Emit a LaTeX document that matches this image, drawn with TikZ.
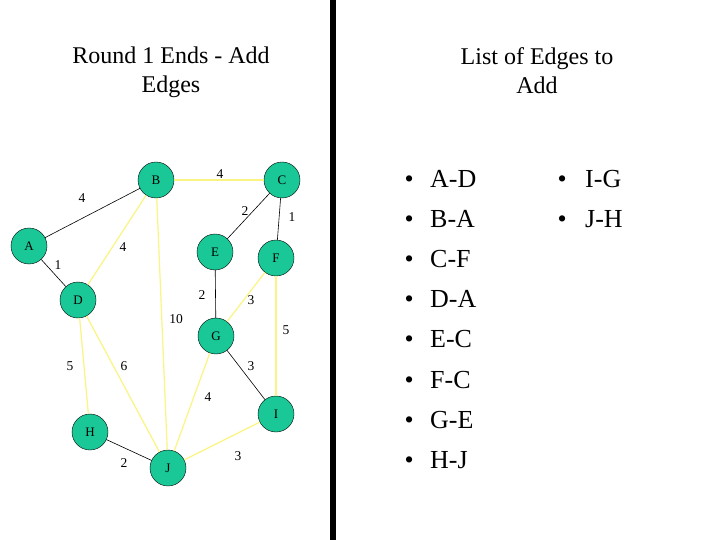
\documentclass[tikz,border=0pt]{standalone}
\usepackage{fontspec}
\setmainfont{Liberation Serif}
\usetikzlibrary{positioning}
\definecolor{seagreen}{RGB}{25,200,150}
\definecolor{paleyellow}{RGB}{250,245,130}

\begin{document}
\begin{tikzpicture}[x=1bp, y=-1bp,
    vertex/.style={circle, draw=black, fill=seagreen, minimum size=36bp, inner sep=0pt,
        font=\fontsize{13bp}{15bp}\selectfont},
    weight/.style={inner sep=0pt, font=\fontsize{13.5bp}{16bp}\selectfont},
    tree/.style={black, line width=0.6bp},
    cand/.style={paleyellow, line width=1.2bp},
    heading/.style={align=center, font=\fontsize{24bp}{29bp}\selectfont},
    entry/.style={anchor=base west, inner sep=0pt, font=\fontsize{26bp}{30bp}\selectfont}]

    % Page and divider
    \fill[white] (0,0) rectangle (720,540);
    \fill[black] (330,0) rectangle (336,540);

    % Titles
    \node[heading] (lefttitle) at (171,74.5) {Round 1 Ends - Add\\Edges\strut};
    \node[heading] (righttitle) at (537,74.5) {List of Edges to\\Add\strut};

    % Graph nodes
    \node[vertex] (A) at (29,246) {A};
    \node[vertex] (B) at (156,180) {B};
    \node[vertex] (C) at (282,180) {C};
    \node[vertex] (D) at (78,300) {D};
    \node[vertex] (E) at (215,252) {E};
    \node[vertex] (F) at (276,258) {F};
    \node[vertex] (G) at (216,336) {G};
    \node[vertex] (H) at (90,432) {H};
    \node[vertex] (I) at (276,414) {I};
    \node[vertex] (J) at (168,468) {J};

    % Edges already in the tree
    \draw[tree] (A) -- (B);
    \draw[tree] (A) -- (D);
    \draw[tree] (C) -- (E);
    \draw[tree] (C) -- (F);
    \draw[tree] (E) -- (G);
    \draw[tree] (G) -- (I);
    \draw[tree] (H) -- (J);

    % Remaining edges
    \draw[cand] (B) -- (C);
    \draw[cand] (B) -- (D);
    \draw[cand] (B) -- (J);
    \draw[cand] (F) -- (G);
    \draw[cand] (F) -- (I);
    \draw[cand] (D) -- (H);
    \draw[cand] (D) -- (J);
    \draw[cand] (G) -- (J);
    \draw[cand] (I) -- (J);

    % Edge weights
    \node[weight] (wab) at (82,198) {4};
    \node[weight] (wbc) at (220,174) {4};
    \node[weight] (wce) at (245,211) {2};
    \node[weight] (wcf) at (292,217) {1};
    \node[weight] (wad) at (58,265) {1};
    \node[weight] (wbd) at (123,247) {4};
    \node[weight] (weg) at (202,295) {2};
    \node[weight] (wfg) at (251,300) {3};
    \node[weight] (wbj) at (176,319) {10};
    \node[weight] (wfi) at (286,330) {5};
    \node[weight] (wdh) at (70,366) {5};
    \node[weight] (wdj) at (124,366) {6};
    \node[weight] (wgi) at (251,366) {3};
    \node[weight] (wgj) at (208,397) {4};
    \node[weight] (wij) at (238,456) {3};
    \node[weight] (whj) at (124,463) {2};

    % List of edges
    \node[entry] (l1) at (404.5,187.5) {\makebox[25.5bp][l]{\textbullet}A-D};
    \node[entry] (l2) at (404.5,227.6) {\makebox[25.5bp][l]{\textbullet}B-A};
    \node[entry] (l3) at (404.5,267.7) {\makebox[25.5bp][l]{\textbullet}C-F};
    \node[entry] (l4) at (404.5,307.8) {\makebox[25.5bp][l]{\textbullet}D-A};
    \node[entry] (l5) at (404.5,347.9) {\makebox[25.5bp][l]{\textbullet}E-C};
    \node[entry] (l6) at (404.5,388.0) {\makebox[25.5bp][l]{\textbullet}F-C};
    \node[entry] (l7) at (404.5,428.1) {\makebox[25.5bp][l]{\textbullet}G-E};
    \node[entry] (l8) at (404.5,468.2) {\makebox[25.5bp][l]{\textbullet}H-J};
    \node[entry] (l9) at (557.5,187.5) {\makebox[27.5bp][l]{\textbullet}I-G};
    \node[entry] (l10) at (557.5,227.6) {\makebox[27.5bp][l]{\textbullet}J-H};

\end{tikzpicture}
\end{document}
